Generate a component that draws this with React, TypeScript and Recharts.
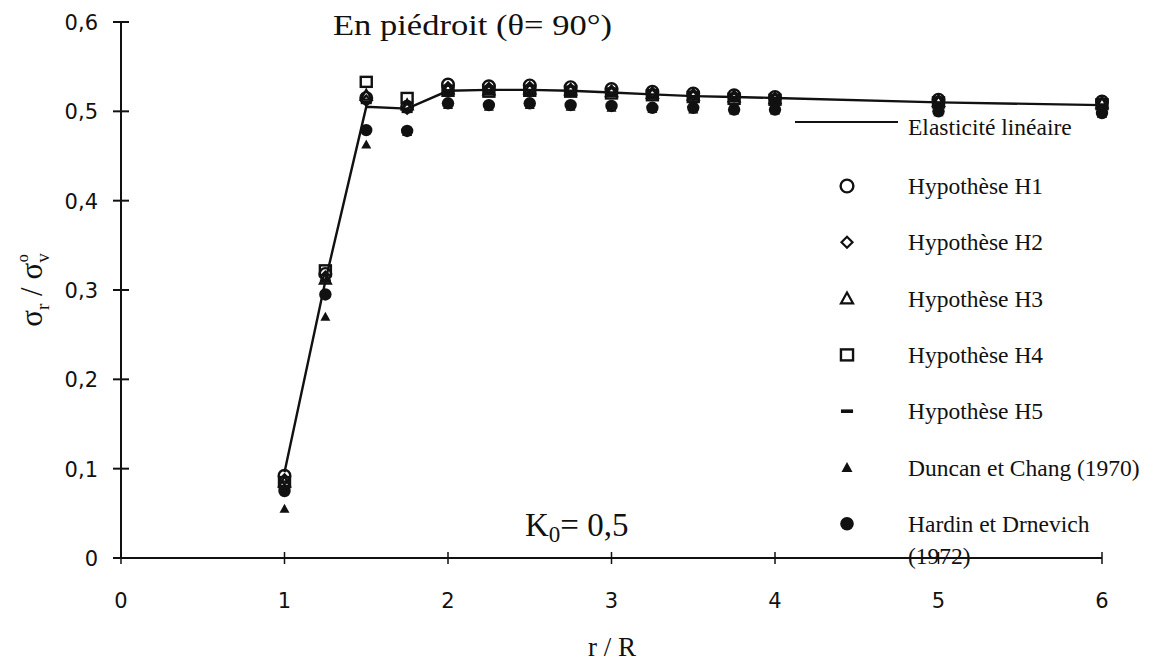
import React from "react";
import { ComposedChart, Line, XAxis, YAxis } from "recharts";

// r / R positions
const rValues = [1, 1.25, 1.5, 1.75, 2, 2.25, 2.5, 2.75, 3, 3.25, 3.5, 3.75, 4, 5, 6];

// series values (sigma_r / sigma_v0)
const elasticite = [0.096, 0.31, 0.505, 0.503, 0.523, 0.524, 0.524, 0.523, 0.521, 0.519, 0.517, 0.516, 0.515, 0.51, 0.507];
const h1 = [0.092, 0.318, 0.515, 0.505, 0.53, 0.528, 0.529, 0.527, 0.525, 0.522, 0.52, 0.518, 0.516, 0.513, 0.511];
const h2 = [0.088, 0.315, 0.512, 0.503, 0.527, 0.526, 0.527, 0.525, 0.523, 0.521, 0.519, 0.517, 0.515, 0.512, 0.51];
const h3 = [0.085, 0.312, 0.518, 0.507, 0.525, 0.524, 0.525, 0.524, 0.522, 0.52, 0.518, 0.516, 0.514, 0.511, 0.509];
const h4 = [0.085, 0.322, 0.533, 0.515, 0.523, 0.522, 0.523, 0.522, 0.52, 0.518, 0.516, 0.514, 0.513, 0.51, 0.508];
const h5 = [0.08, 0.31, 0.51, 0.5, 0.52, 0.52, 0.52, 0.519, 0.518, 0.516, 0.514, 0.513, 0.512, 0.509, 0.507];
const duncan = [0.055, 0.27, 0.463, 0.477, 0.507, 0.505, 0.507, 0.505, 0.504, 0.503, 0.502, 0.501, 0.501, 0.499, 0.497];
const hardin = [0.075, 0.295, 0.479, 0.478, 0.509, 0.507, 0.509, 0.507, 0.506, 0.504, 0.504, 0.502, 0.502, 0.5, 0.498];

const xTicks = [0, 1, 2, 3, 4, 5, 6];
const xTickLabels = ["0", "1", "2", "3", "4", "5", "6"];
const yTicks = [0, 0.1, 0.2, 0.3, 0.4, 0.5, 0.6];
const yTickLabels = ["0", "0,1", "0,2", "0,3", "0,4", "0,5", "0,6"];

const data = rValues.map((r, i) => ({
  r,
  elasticite: elasticite[i],
  h1: h1[i],
  h2: h2[i],
  h3: h3[i],
  h4: h4[i],
  h5: h5[i],
  duncan: duncan[i],
  hardin: hardin[i],
}));

const INK = "#111";
const serif = "'Liberation Serif', 'Times New Roman', serif";
const sans = "'DejaVu Sans', sans-serif";

type Mk = { cx: number; cy: number; s?: number };

const OpenCircle = ({ cx, cy, s = 1 }: Mk) => (
  <circle cx={cx} cy={cy} r={5.8 * s} fill="none" stroke={INK} strokeWidth={2.4} />
);
const OpenDiamond = ({ cx, cy, s = 1 }: Mk) => {
  const d = 5 * s;
  return (
    <polygon
      points={`${cx},${cy - d} ${cx + d},${cy} ${cx},${cy + d} ${cx - d},${cy}`}
      fill="none"
      stroke={INK}
      strokeWidth={2.2}
    />
  );
};
const OpenTriangle = ({ cx, cy, s = 1 }: Mk) => {
  const d = 5.5 * s;
  return (
    <polygon
      points={`${cx},${cy - d} ${cx + d},${cy + d * 0.8} ${cx - d},${cy + d * 0.8}`}
      fill="none"
      stroke={INK}
      strokeWidth={2.2}
    />
  );
};
const OpenSquare = ({ cx, cy, s = 1 }: Mk) => (
  <rect x={cx - 5.5 * s} y={cy - 5 * s} width={11 * s} height={10 * s} fill="none" stroke={INK} strokeWidth={2.4} />
);
const Dash = ({ cx, cy, s = 1 }: Mk) => (
  <rect x={cx - 5.5 * s} y={cy - 1.8} width={11 * s} height={3.6} fill={INK} />
);
const FilledTriangle = ({ cx, cy, s = 1 }: Mk) => {
  const d = 5 * s;
  return <polygon points={`${cx},${cy - d} ${cx + d},${cy + d * 0.8} ${cx - d},${cy + d * 0.8}`} fill={INK} />;
};
const FilledCircle = ({ cx, cy, s = 1 }: Mk) => <circle cx={cx} cy={cy} r={6.2 * s} fill={INK} />;

const dotOf = (Shape: React.FC<Mk>) => (props: any) => {
  const { cx, cy, index } = props;
  if (cx == null || cy == null) return <g key={`e${index}`} />;
  return <Shape key={`m${index}`} cx={cx} cy={cy} />;
};

const XTick = (props: any) => {
  const { x, y, payload, index } = props;
  return (
    <g>
      <line x1={x} x2={x} y1={y - 6} y2={y + 6} stroke={INK} strokeWidth={1.5} />
      <text x={x} y={y + 50} textAnchor="middle" fontFamily={sans} fontSize={21} fill={INK}>
        {xTickLabels[xTicks.indexOf(payload.value)] ?? index}
      </text>
    </g>
  );
};

const YTick = (props: any) => {
  const { x, y, payload } = props;
  const i = yTicks.findIndex((t) => Math.abs(t - payload.value) < 1e-9);
  return (
    <g>
      <line x1={x - 8} x2={x + 8} y1={y} y2={y} stroke={INK} strokeWidth={2} />
      <text x={x - 23} y={y + 8} textAnchor="end" fontFamily={sans} fontSize={21} fill={INK}>
        {yTickLabels[i]}
      </text>
    </g>
  );
};

const legendItems: { label: string; Shape: React.FC<Mk> }[] = [
  { label: "Hypothèse H1", Shape: OpenCircle },
  { label: "Hypothèse H2", Shape: OpenDiamond },
  { label: "Hypothèse H3", Shape: OpenTriangle },
  { label: "Hypothèse H4", Shape: OpenSquare },
  { label: "Hypothèse H5", Shape: Dash },
  { label: "Duncan et Chang (1970)", Shape: FilledTriangle },
  { label: "Hardin et Drnevich", Shape: FilledCircle },
];

const Overlay = () => (
  <svg width={1159} height={668} style={{ position: "absolute", left: 0, top: 0, pointerEvents: "none" }}>
    {/* titre */}
    <text x={333} y={35} fontFamily={serif} fontSize={29} fill={INK} textLength={279} lengthAdjust="spacingAndGlyphs">
      En piédroit (θ= 90°)
    </text>
    {/* K0 */}
    <text x={525} y={536} fontFamily={serif} fontSize={33} fill={INK}>
      K<tspan dy={6} fontSize={23}>0</tspan>
      <tspan dy={-6}>= 0,5</tspan>
    </text>
    {/* legende */}
    <line x1={795} x2={898} y1={122} y2={122} stroke={INK} strokeWidth={2} />
    <text x={908} y={135} fontFamily={serif} fontSize={23.5} fill={INK}>
      Elasticité linéaire
    </text>
    {legendItems.map((it, i) => {
      const y = 186 + i * 56.3;
      return (
        <g key={it.label}>
          <it.Shape cx={847} cy={y} s={1.1} />
          <text x={908} y={y + 8} fontFamily={serif} fontSize={23.5} fill={INK}>
            {it.label}
          </text>
        </g>
      );
    })}
    <text x={908} y={564} fontFamily={serif} fontSize={23.5} fill={INK}>
      (1972)
    </text>
    {/* titres des axes */}
    <text x={612} y={656} textAnchor="middle" fontFamily={serif} fontSize={27} fill={INK}>
      r / R
    </text>
    <text
      x={42}
      y={290}
      transform="rotate(-90 42 290)"
      textAnchor="middle"
      fontFamily={serif}
      fontSize={31}
      fill={INK}
    >
      σ<tspan dy={7} fontSize={19}>r</tspan>
      <tspan dy={-7}>{"  / σ"}</tspan>
      <tspan dy={7} fontSize={19}>v</tspan>
      <tspan dx={-9} dy={-21} fontSize={16}>o</tspan>
    </text>
  </svg>
);

export default function App() {
  return (
    <div style={{ position: "absolute", left: 0, top: 0, width: 1159, height: 668, background: "#fff" }}>
      <ComposedChart
        width={1159}
        height={668}
        data={data}
        margin={{ top: 22, right: 57, bottom: 0, left: 0 }}
      >
        <XAxis
          dataKey="r"
          type="number"
          domain={[0, 6]}
          ticks={xTicks}
          interval={0}
          height={110}
          tickSize={0}
          tickMargin={0}
          axisLine={{ stroke: INK, strokeWidth: 2 }}
          tickLine={false}
          tick={XTick}
        />
        <YAxis
          type="number"
          domain={[0, 0.6]}
          ticks={yTicks}
          interval={0}
          width={121}
          tickSize={0}
          tickMargin={0}
          axisLine={{ stroke: INK, strokeWidth: 2 }}
          tickLine={false}
          tick={YTick}
        />
        <Line
          dataKey="elasticite"
          type="linear"
          stroke={INK}
          strokeWidth={2.4}
          dot={false}
          activeDot={false}
          isAnimationActive={false}
        />
        <Line dataKey="hardin" stroke="none" dot={dotOf(FilledCircle)} activeDot={false} isAnimationActive={false} />
        <Line dataKey="duncan" stroke="none" dot={dotOf(FilledTriangle)} activeDot={false} isAnimationActive={false} />
        <Line dataKey="h5" stroke="none" dot={dotOf(Dash)} activeDot={false} isAnimationActive={false} />
        <Line dataKey="h3" stroke="none" dot={dotOf(OpenTriangle)} activeDot={false} isAnimationActive={false} />
        <Line dataKey="h2" stroke="none" dot={dotOf(OpenDiamond)} activeDot={false} isAnimationActive={false} />
        <Line dataKey="h4" stroke="none" dot={dotOf(OpenSquare)} activeDot={false} isAnimationActive={false} />
        <Line dataKey="h1" stroke="none" dot={dotOf(OpenCircle)} activeDot={false} isAnimationActive={false} />
      </ComposedChart>
      <Overlay />
    </div>
  );
}
